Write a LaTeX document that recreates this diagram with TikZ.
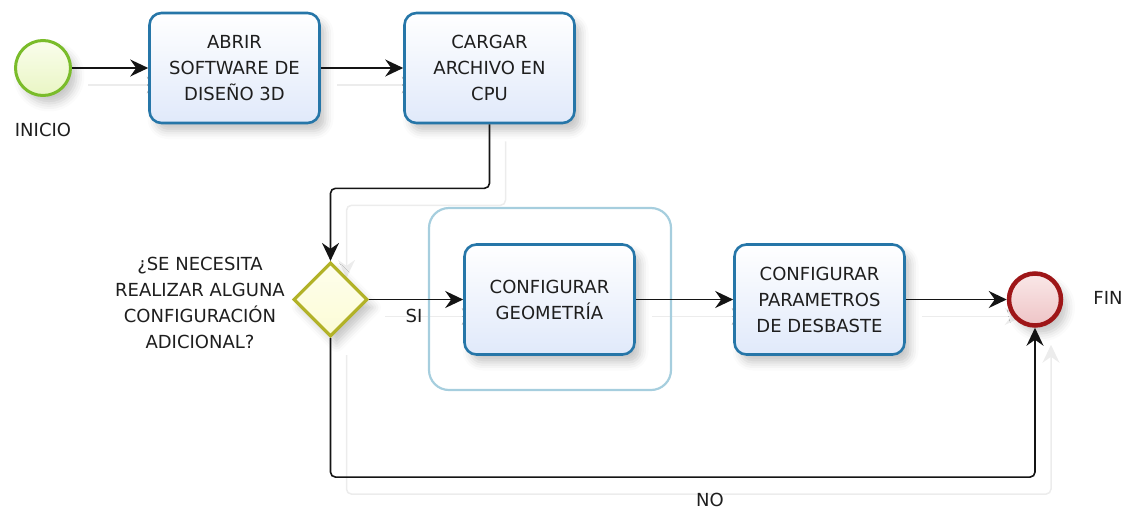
\documentclass[tikz,border=0pt]{standalone}
\usepackage{fontspec}
\setmainfont{DejaVu Sans}
\usetikzlibrary{shapes.geometric,arrows.meta,shadows.blur}
\pgfdeclarelayer{background}
\pgfsetlayers{background,main}

\definecolor{taskblue}{RGB}{38,118,168}
\definecolor{taskfill}{RGB}{224,233,250}
\definecolor{startgreen}{RGB}{122,188,42}
\definecolor{startfill}{RGB}{233,246,196}
\definecolor{gateolive}{RGB}{178,178,40}
\definecolor{gatefill}{RGB}{252,252,214}
\definecolor{endred}{RGB}{158,22,24}
\definecolor{endfill}{RGB}{238,196,198}
\definecolor{groupblue}{RGB}{166,206,222}
\definecolor{txt}{RGB}{30,30,30}
\definecolor{ghostgray}{RGB}{236,236,236}

\newcommand\diagfont{\fontsize{18}{26}\selectfont}

\begin{document}
\begin{tikzpicture}[x=1pt,y=-1pt,
  softshadow/.style={blur shadow={shadow xshift=6pt,shadow yshift=-8pt,
      shadow blur radius=8pt,shadow opacity=22}},
  task/.style={draw=taskblue,line width=2.6pt,rounded corners=12pt,
      minimum width=170pt,minimum height=110pt,align=center,
      top color=white,bottom color=taskfill,text=txt,font=\diagfont,
      inner sep=2pt,softshadow},
  startev/.style={circle,draw=startgreen,line width=3pt,minimum size=55pt,
      inner sep=0pt,top color={rgb,255:red,250;green,253;blue,236},
      bottom color=startfill,softshadow},
  endev/.style={circle,draw=endred,line width=4.5pt,minimum size=52pt,
      inner sep=0pt,top color={rgb,255:red,250;green,232;blue,232},
      bottom color=endfill,softshadow},
  gateway/.style={diamond,draw=gateolive,line width=3.2pt,minimum width=74pt,
      minimum height=74pt,inner sep=0pt,top color={rgb,255:red,254;green,254;blue,236},
      bottom color=gatefill,softshadow},
  groupbox/.style={draw=groupblue,line width=2.2pt,rounded corners=20pt,
      minimum width=242pt,minimum height=182pt,inner sep=0pt},
  lbl/.style={text=txt,font=\diagfont,align=center,inner sep=0pt},
  tip/.style={-{Stealth[length=18pt,width=17pt,inset=6pt]}},
  flow/.style={draw=black!92,line width=1.6pt,tip},
  ghost/.style={draw=ghostgray,line width=1.5pt,tip,
      transform canvas={xshift=16pt,yshift=-17pt}}
]
\useasboundingbox (0,0) rectangle (1130,512);

% pool group around the geometry task
\node[groupbox] (grp) at (550,299) {};

% events, tasks and gateway
\node[startev] (start) at (43,68) {};
\node[lbl] (inicio) at (43,130) {INICIO};
\node[task] (t1) at (234.5,68) {ABRIR\\SOFTWARE DE\\DISEÑO 3D};
\node[task] (t2) at (489.5,68) {CARGAR\\ARCHIVO EN\\CPU};
\node[gateway] (gw) at (330.5,299.5) {};
\node[lbl] (q) at (200,303) {¿SE NECESITA\\REALIZAR ALGUNA\\CONFIGURACIÓN\\ADICIONAL?};
\node[task] (t3) at (549.5,299.5) {CONFIGURAR\\GEOMETRÍA};
\node[task] (t4) at (819.5,299.5) {CONFIGURAR\\PARAMETROS\\DE DESBASTE};
\node[endev] (end) at (1035,299.5) {};
\node[lbl] (fin) at (1108,298) {FIN};
\node[lbl] (si) at (414,316) {SI};
\node[lbl] (no) at (710,500) {NO};

% faint offset copies of the sequence flows
\begin{pgfonlayer}{background}
  \draw[ghost] (start) -- (t1);
  \draw[ghost] (t1) -- (t2);
  \draw[ghost,rounded corners=5pt] (t2.south) -- ++(0,64) -| (gw.north);
  \draw[ghost] (gw.east) -- (t3.west);
  \draw[ghost] (t3) -- (t4);
  \draw[ghost] (t4) -- (end);
  \draw[ghost,rounded corners=5pt] (gw.south) -- ++(0,139) -| (end.south);
\end{pgfonlayer}

% sequence flows
\draw[flow] (start) -- (t1);
\draw[flow] (t1) -- (t2);
\draw[flow,rounded corners=5pt] (t2.south) -- ++(0,64) -| (gw.north);
\draw[flow] (gw.east) -- (t3.west);
\draw[flow] (t3) -- (t4);
\draw[flow] (t4) -- (end);
\draw[flow,rounded corners=5pt] (gw.south) -- ++(0,139) -| (end.south);
\end{tikzpicture}
\end{document}
